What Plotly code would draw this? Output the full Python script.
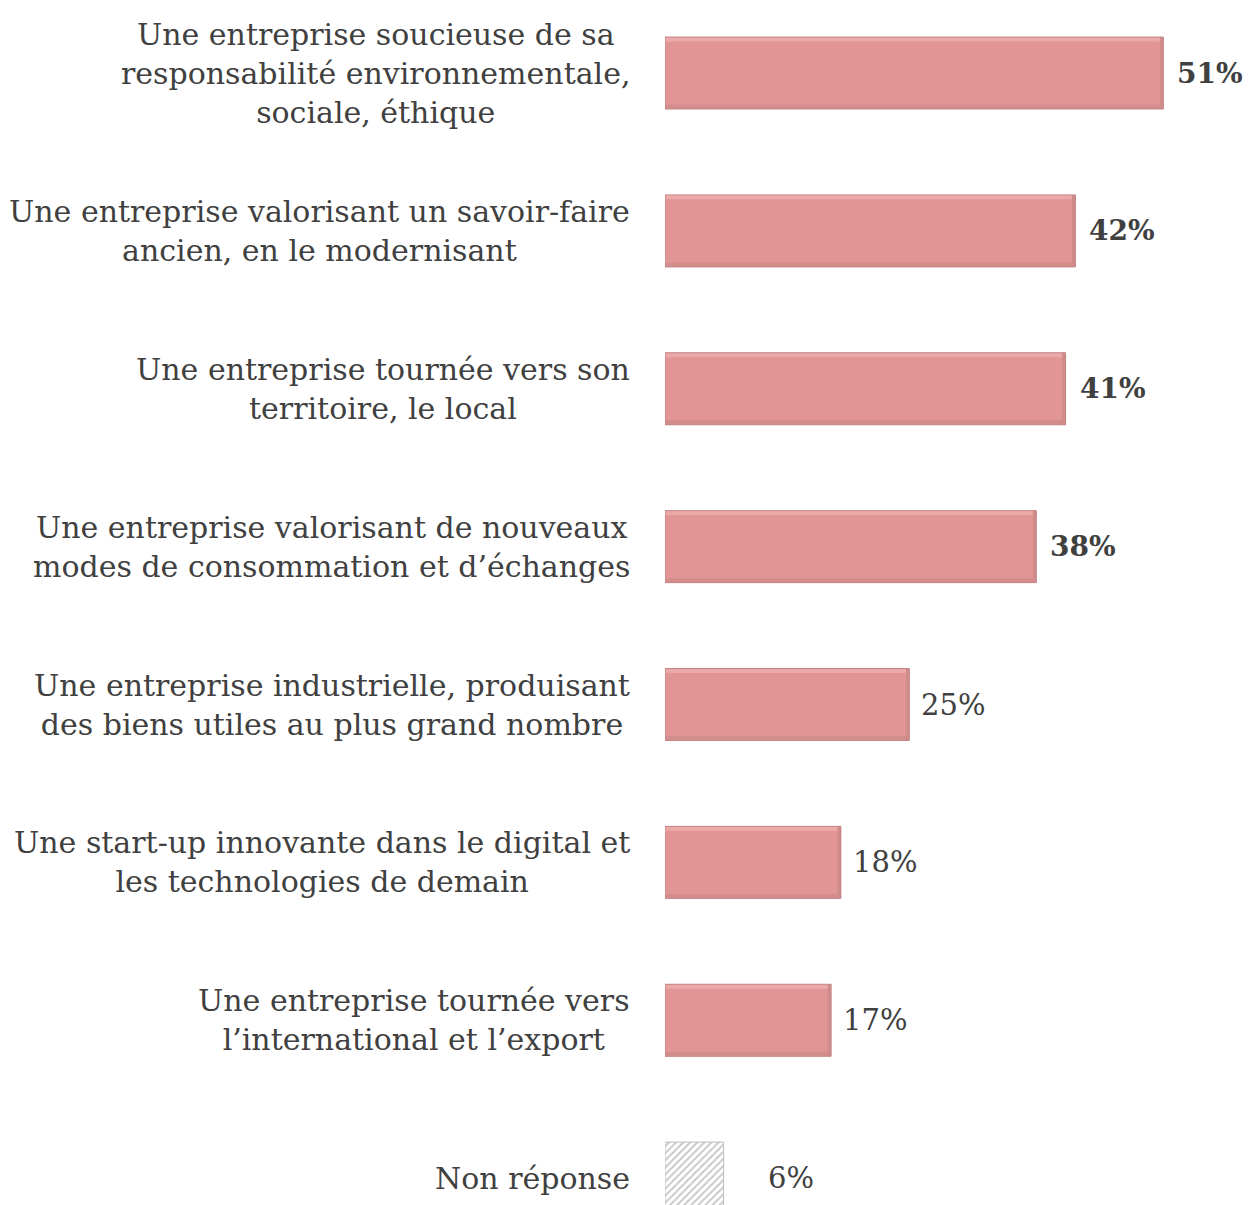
import plotly.graph_objects as go

categories = [
    "Une entreprise soucieuse de sa<br>responsabilité environnementale,<br>sociale, éthique",
    "Une entreprise valorisant un savoir-faire<br>ancien, en le modernisant",
    "Une entreprise tournée vers son<br>territoire, le local",
    "Une entreprise valorisant de nouveaux<br>modes de consommation et d’échanges",
    "Une entreprise industrielle, produisant<br>des biens utiles au plus grand nombre",
    "Une start-up innovante dans le digital et<br>les technologies de demain",
    "Une entreprise tournée vers<br>l’international et l’export",
    "Non réponse",
]
values = [51, 42, 41, 38, 25, 18, 17, 6]
value_labels = ["51%", "42%", "41%", "38%", "25%", "18%", "17%", "6%"]
bold_flags = [True, True, True, True, False, False, False, False]

FONT = "DejaVu Serif"
TXT = "#404040"
BW = 0.456          # bar thickness (category units)
STRIP = 0.028       # bevel strip thickness
idx = list(range(len(values)))
main_y = idx[:-1]
main_x = values[:-1]

fig = go.Figure()
# main bars
fig.add_trace(go.Bar(
    y=main_y, x=main_x, orientation="h", width=BW,
    marker=dict(color="#E29595", line=dict(width=0)),
    hoverinfo="skip",
))
# top highlight (bevel)
fig.add_trace(go.Bar(
    y=main_y, x=main_x, orientation="h", width=STRIP, offset=-BW / 2,
    marker=dict(color="#ECA9A9", line=dict(width=0)), hoverinfo="skip",
))
# bottom shade (bevel)
fig.add_trace(go.Bar(
    y=main_y, x=main_x, orientation="h", width=STRIP, offset=BW / 2 - STRIP,
    marker=dict(color="#D48D8D", line=dict(width=0)), hoverinfo="skip",
))
# right shade (bevel)
fig.add_trace(go.Bar(
    y=main_y, x=[0.35] * len(main_x), base=[v - 0.35 for v in main_x], orientation="h", width=BW,
    marker=dict(color="#D08B8B", line=dict(width=0)), hoverinfo="skip",
))
# outline
fig.add_trace(go.Bar(
    y=main_y, x=main_x, orientation="h", width=BW,
    marker=dict(color="rgba(0,0,0,0)", line=dict(color="#C48585", width=1)),
    hoverinfo="skip",
))
# non-response hatched bar
fig.add_trace(go.Bar(
    y=idx[-1:], x=values[-1:], orientation="h", width=BW,
    marker=dict(color="white", line=dict(color="#BDBDBD", width=1),
                pattern=dict(shape="/", fgcolor="#8C8C8C", bgcolor="white", size=5, solidity=0.35)),
    hoverinfo="skip",
))

for i, (cat, v, lab, b) in enumerate(zip(categories, values, value_labels, bold_flags)):
    fig.add_annotation(x=0, xref="paper", y=i, yref="y", text=cat, showarrow=False,
                       xanchor="right", align="center", xshift=-33,
                       font=dict(family=FONT, size=30, color=TXT))
    fig.add_annotation(x=v, xref="x", y=i, yref="y",
                       text=f"<b>{lab}</b>" if b else lab, showarrow=False,
                       xanchor="left", xshift=(42 if i == len(values) - 1 else (12 if b else 10)),
                       font=dict(family=FONT, size=(28 if b else 29), color=TXT))

fig.update_layout(
    width=1253, height=1205, margin=dict(l=657, r=0, t=0, b=0),
    plot_bgcolor="white", paper_bgcolor="white", showlegend=False, barmode="overlay",
    xaxis=dict(range=[0, 61], visible=False),
    yaxis=dict(range=[7.221, -0.412], visible=False),
)
fig.write_html("out.html")
